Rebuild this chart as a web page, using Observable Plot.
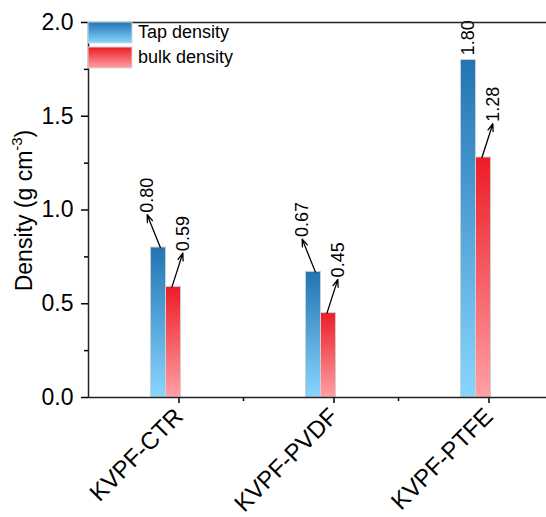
<!DOCTYPE html>
<html>
<head>
<meta charset="utf-8">
<script src="https://cdn.jsdelivr.net/npm/d3@7"></script>
<script src="https://cdn.jsdelivr.net/npm/@observablehq/plot@0.6"></script>
<style>
  html, body { margin: 0; padding: 0; background: #fff; overflow: hidden; }
  #chart { width: 546px; height: 517px; overflow: hidden; }
  #chart svg { max-width: none !important; }
</style>
</head>
<body>
<div id="chart"></div>
<script>
const categories = ["KVPF-CTR", "KVPF-PVDF", "KVPF-PTFE"];
const tapDensity = [0.80, 0.67, 1.80];
const bulkDensity = [0.59, 0.45, 1.28];
const tapHasArrow = [true, true, false];
const bulkHasArrow = [true, true, true];
const seriesNames = ["Tap density", "bulk density"];
const yTicks = [0, 0.5, 1.0, 1.5, 2.0];
const yMinorTicks = [0.25, 0.75, 1.25, 1.75];

const FONT = "Arial, 'Liberation Sans', sans-serif";
const bw = 0.097; // bar width in category units

const bars = [];
categories.forEach((c, i) => {
  bars.push({cat: c, series: "tap", x1: i + 0.5 - bw, x2: i + 0.5, v: tapDensity[i]});
  bars.push({cat: c, series: "bulk", x1: i + 0.5, x2: i + 0.5 + bw, v: bulkDensity[i]});
});

const arrows = [];
const labels = [];
categories.forEach((c, i) => {
  const tc = i + 0.5 - bw / 2;
  const bc = i + 0.5 + bw / 2;
  if (tapHasArrow[i]) {
    const xs = tc + 0.012, xe = xs - 0.085, ye = tapDensity[i] + 0.175;
    arrows.push({x1: xs, y1: tapDensity[i], x2: xe, y2: ye});
    labels.push({x: xe, y: ye, t: tapDensity[i].toFixed(2)});
  } else {
    labels.push({x: tc, y: tapDensity[i] + 0.015, t: tapDensity[i].toFixed(2)});
  }
  if (bulkHasArrow[i]) {
    const xs = bc - 0.01, xe = xs + 0.07, ye = bulkDensity[i] + 0.18;
    arrows.push({x1: xs, y1: bulkDensity[i], x2: xe, y2: ye});
    labels.push({x: xe, y: ye, t: bulkDensity[i].toFixed(2)});
  }
});

const plot = Plot.plot({
  width: 553,
  height: 517,
  marginTop: 22,
  marginBottom: 120,
  marginLeft: 88,
  marginRight: 0,
  style: {fontFamily: FONT, fontSize: "23px", color: "#000", background: "#fff", overflow: "visible", maxWidth: "none"},
  x: {type: "linear", domain: [0, 3]},
  y: {domain: [0, 2]},
  marks: [
    Plot.rectY(bars, {
      x1: "x1", x2: "x2", y1: 0, y2: "v",
      fill: d => d.series === "tap" ? "url(#tapGrad)" : "url(#bulkGrad)",
      stroke: "#cfcfcf", strokeWidth: 1
    }),
    Plot.arrow(arrows, {x1: "x1", y1: "y1", x2: "x2", y2: "y2", stroke: "#000", strokeWidth: 1.3, headLength: 9, headAngle: 40}),
    Plot.text(labels, {x: "x", y: "y", text: "t", rotate: -90, textAnchor: "start", lineAnchor: "middle", dx: 0, dy: -2, fontSize: 18, fill: "#000"}),
    Plot.axisY({ticks: yTicks, tickSize: 7, tickPadding: 8, tickFormat: d3.format(".1f"), fontSize: 23, label: null, strokeWidth: 1.5}),
    Plot.axisY({ticks: yMinorTicks, tickSize: 4, tickFormat: () => "", label: null, strokeWidth: 1.5}),
    Plot.axisX({ticks: [0.5, 1.5, 2.5], tickSize: 6, tickRotate: -45, tickPadding: 9, dx: 13, tickFormat: d => categories[Math.floor(d)], fontSize: 24, label: null, strokeWidth: 1.5}),
    Plot.axisX({ticks: [1, 2], tickSize: 4, tickFormat: () => "", label: null, strokeWidth: 1.5}),
    Plot.frame({stroke: "#222", strokeWidth: 1.5})
  ]
});

const svg = d3.select(plot);
const defs = svg.insert("defs", ":first-child");
function grad(id, top, bottom) {
  const g = defs.append("linearGradient").attr("id", id).attr("x1", 0).attr("y1", 0).attr("x2", 0).attr("y2", 1);
  g.append("stop").attr("offset", "0%").attr("stop-color", top);
  g.append("stop").attr("offset", "100%").attr("stop-color", bottom);
}
grad("tapGrad", "#2274b3", "#88d6ff");
grad("bulkGrad", "#ec1c26", "#ffa0a5");

const xs = plot.scale("x"), ys = plot.scale("y");
// y-axis title with superscript
const yl = svg.append("text")
  .attr("transform", `translate(32,${ys.apply(1) + 1}) rotate(-90)`)
  .attr("text-anchor", "middle")
  .attr("font-family", FONT).attr("font-size", 23).attr("fill", "#000");
yl.append("tspan").text("Density (g cm");
yl.append("tspan").attr("font-size", 15).attr("dy", -10).text("-3");
yl.append("tspan").attr("dy", 10).text(")");

// legend inside plot
const lx = xs.apply(0);
const lg = svg.append("g").attr("font-family", FONT).attr("font-size", 18).attr("text-anchor", "start");
seriesNames.forEach((name, k) => {
  const y0 = ys.apply(2) + k * 25;
  lg.append("rect").attr("x", lx).attr("y", y0).attr("width", 44).attr("height", 21)
    .attr("fill", k === 0 ? "url(#tapGrad)" : "url(#bulkGrad)").attr("stroke", "#d8d8d8");
  lg.append("text").attr("x", lx + 50).attr("y", y0 + 16).attr("fill", "#000").attr("text-anchor", "start").text(name);
});

document.getElementById("chart").appendChild(plot);
</script>
</body>
</html>
